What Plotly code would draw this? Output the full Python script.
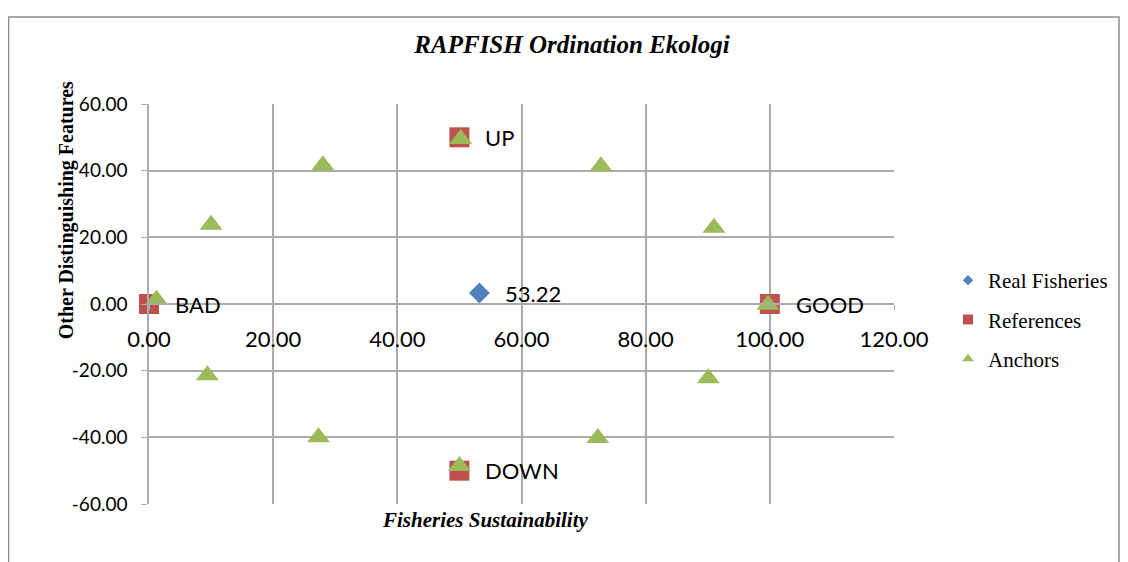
import plotly.graph_objects as go

# values
real_x = [53.22]
real_y = [3.3]

ref_x = [0, 100, 50, 50]
ref_y = [0, 0, 50, -50]
ref_labels = ["BAD", "GOOD", "UP", "DOWN"]

anchor_x = [1.2, 10.0, 28.0, 50.2, 72.8, 91.0, 99.7, 90.1, 72.3, 50.0, 27.3, 9.4]
anchor_y = [1.3, 23.8, 41.6, 49.5, 41.3, 22.9, -0.2, -22.3, -40.2, -48.6, -40.0, -21.4]

x_ticks = [0, 20, 40, 60, 80, 100, 120]
y_ticks = [-60, -40, -20, 0, 20, 40, 60]

BLUE = "#4F81BD"
RED = "#C0504D"
GREEN = "#9BBB59"
GRID = "#ABABAB"
SERIF = "Liberation Serif"
SANS = "Lato"

fig = go.Figure()

fig.add_scatter(x=real_x, y=real_y, mode="markers", showlegend=False, cliponaxis=False,
                marker={"symbol": "diamond", "size": 16, "color": BLUE})
fig.add_scatter(x=ref_x, y=ref_y, mode="markers", showlegend=False, cliponaxis=False,
                marker={"symbol": "square", "size": 20, "color": RED})
fig.add_scatter(x=anchor_x, y=anchor_y, mode="markers", showlegend=False, cliponaxis=False,
                marker={"symbol": "triangle-up", "size": 20, "color": GREEN})

# legend entries with the small symbols of the original
for name, symbol, color, size in [
    ("Real Fisheries", "diamond", BLUE, 8),
    ("References", "square", RED, 10),
    ("Anchors", "triangle-up", GREEN, 10),
]:
    fig.add_scatter(x=[None], y=[None], mode="markers", name=name, legendgroup=name,
                    marker={"symbol": symbol, "size": size, "color": color})

# data labels
labels = [(x, y, f"{x:.2f}") for x, y in zip(real_x, real_y)]
labels += list(zip(ref_x, ref_y, ref_labels))
for x, y, t in labels:
    fig.add_annotation(x=x, y=y, text=t, showarrow=False, xanchor="left", yanchor="middle",
                       xshift=24, font={"family": SANS, "size": 22, "color": "black"})

# axis titles
fig.add_annotation(xref="paper", yref="paper", x=0.451, y=-0.04, xanchor="center", yanchor="middle",
                   text="<b><i>Fisheries Sustainability</i></b>",
                   showarrow=False, font={"family": SERIF, "size": 21, "color": "black"})
fig.add_annotation(xref="paper", yref="paper", x=-0.111, y=0.735, xanchor="center", yanchor="middle",
                   text="<b>Other Distinguishing Features</b>",
                   textangle=-90, showarrow=False, font={"family": SERIF, "size": 20, "color": "black"})

# chart frame
fig.add_shape(type="rect", xref="paper", yref="paper", x0=-0.1886, x1=1.302, y0=-0.3, y1=1.2175,
              line={"color": "#8C8C8C", "width": 1.5}, layer="below")

# the page body adds an 8px margin, so the figure is 8px smaller than the window
fig.update_layout(
    width=1120,
    height=554,
    margin={"l": 141, "r": 234, "t": 96, "b": 58},
    paper_bgcolor="white",
    plot_bgcolor="white",
    title={
        "text": "<b><i>RAPFISH Ordination Ekologi</i></b>",
        "x": 0.5036, "xanchor": "center", "xref": "container",
        "y": 1 - 36 / 554, "yanchor": "middle", "yref": "container",
        "font": {"family": SERIF, "size": 25, "color": "black"},
    },
    xaxis={
        "range": [0, 120],
        "tickvals": x_ticks,
        "ticktext": [f"{v:.2f}" for v in x_ticks],
        "showgrid": True, "gridcolor": GRID, "gridwidth": 1.5,
        "zeroline": False,
        "showline": True, "linecolor": GRID, "linewidth": 1.5,
        "ticks": "outside", "ticklen": 5, "tickcolor": GRID,
        "anchor": "free", "position": 0.5,
        "ticklabelstandoff": 11,
        "tickfont": {"family": SANS, "size": 22, "color": "black"},
    },
    yaxis={
        "range": [-60, 60],
        "tickvals": y_ticks,
        "ticktext": [f"{v:.2f}" for v in y_ticks],
        "showgrid": True, "gridcolor": GRID, "gridwidth": 1.5,
        "zeroline": False,
        "showline": True, "linecolor": GRID, "linewidth": 1.5,
        "ticks": "outside", "ticklen": 6, "tickcolor": GRID,
        "ticklabelstandoff": 10,
        "tickfont": {"family": SANS, "size": 19, "color": "black"},
    },
    legend={
        "x": 1.0725, "xanchor": "left",
        "y": 0.61, "yanchor": "top",
        "tracegroupgap": 9,
        "font": {"family": SERIF, "size": 21, "color": "black"},
        "bgcolor": "rgba(0,0,0,0)",
    },
)

fig.write_html("out.html")
